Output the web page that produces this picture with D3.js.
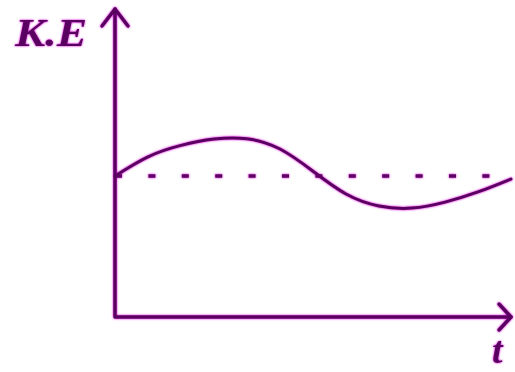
<script src="https://d3js.org/d3.v7.min.js"></script>

<style>
  body { margin: 0; background: #fff; }
</style>

<body>
  <svg width="515" height="372"></svg>
</body>

<script>
  // values (t in equal steps, K.E in arbitrary units)
  const tValues = [0, 1, 2, 3, 4, 5, 6, 7, 8, 9, 10, 11, 12];
  const keValues = [47, 53.4, 57.2, 59.3, 59.4, 56, 48.6, 41, 37, 36.3, 38.3, 41.7, 46];
  const meanKE = 47;
  const axisLabels = ['K.E', 't'];

  const svg = d3.select('svg')
  const width = +svg.attr('width')
  const height = +svg.attr('height')

  const margin = {top: 17, left: 115, bottom: 55, right: 4};

  const color = '#5a0060';

  // soft magenta halo round the dark strokes, like the scanned image
  const defs = svg.append('defs');
  const glow = defs.append('filter').attr('id', 'glow')
    .attr('x', '-10%').attr('y', '-10%').attr('width', '120%').attr('height', '120%');
  glow.append('feGaussianBlur').attr('in', 'SourceAlpha').attr('stdDeviation', 1.2).attr('result', 'blur');
  glow.append('feFlood').attr('flood-color', '#d600d6').attr('result', 'flood');
  glow.append('feComposite').attr('in', 'flood').attr('in2', 'blur').attr('operator', 'in').attr('result', 'halo');
  const merge = glow.append('feMerge');
  merge.append('feMergeNode').attr('in', 'halo');
  merge.append('feMergeNode').attr('in', 'SourceGraphic');

  const xScale = d3.scaleLinear()
    .domain([0, 12])
    .range([margin.left, width - margin.right]);

  const yScale = d3.scaleLinear()
    .domain([0, 100])
    .range([height - margin.bottom, margin.top]);

  const x0 = xScale(0), y0 = yScale(0);

  // axes
  const g = svg.append('g')
    .attr('filter', 'url(#glow)')
    .attr('stroke', color)
    .attr('fill', 'none')
    .attr('stroke-linecap', 'round')
    .attr('stroke-linejoin', 'round');

  g.append('path')
    .attr('stroke-width', 3.5)
    .attr('d', `M${x0},9 L${x0},${y0} L${width - 4},${y0}`);

  // arrow heads
  g.append('path')
    .attr('stroke-width', 3.5)
    .attr('d', `M${x0 - 13},26 L${x0},9 L${x0 + 13},26`);
  g.append('path')
    .attr('stroke-width', 3.5)
    .attr('d', `M${width - 16},${y0 - 13} L${width - 4},${y0} L${width - 16},${y0 + 13}`);

  // average line (dotted)
  g.append('line')
    .attr('x1', x0)
    .attr('x2', xScale(12))
    .attr('y1', yScale(meanKE))
    .attr('y2', yScale(meanKE))
    .attr('stroke-width', 3.5)
    .attr('stroke-linecap', 'butt')
    .attr('stroke-dasharray', '7,26.4');

  // kinetic energy curve
  const line = d3.line()
    .x((d, i) => xScale(tValues[i]))
    .y(d => yScale(d))
    .curve(d3.curveNatural);

  g.append('path')
    .datum(keValues)
    .attr('stroke-width', 3)
    .attr('d', line);

  // labels
  const labels = svg.append('g')
    .attr('filter', 'url(#glow)')
    .attr('fill', color)
    .style('font-family', '"Liberation Serif", serif')
    .style('font-weight', 'bold')
    .style('font-style', 'italic');

  labels.append('text')
    .attr('x', 15)
    .attr('y', 46)
    .attr('textLength', 72)
    .attr('lengthAdjust', 'spacingAndGlyphs')
    .style('font-size', '40px')
    .text(axisLabels[0]);

  labels.append('text')
    .attr('x', 492)
    .attr('y', 363)
    .style('font-size', '38px')
    .text(axisLabels[1]);
</script>
